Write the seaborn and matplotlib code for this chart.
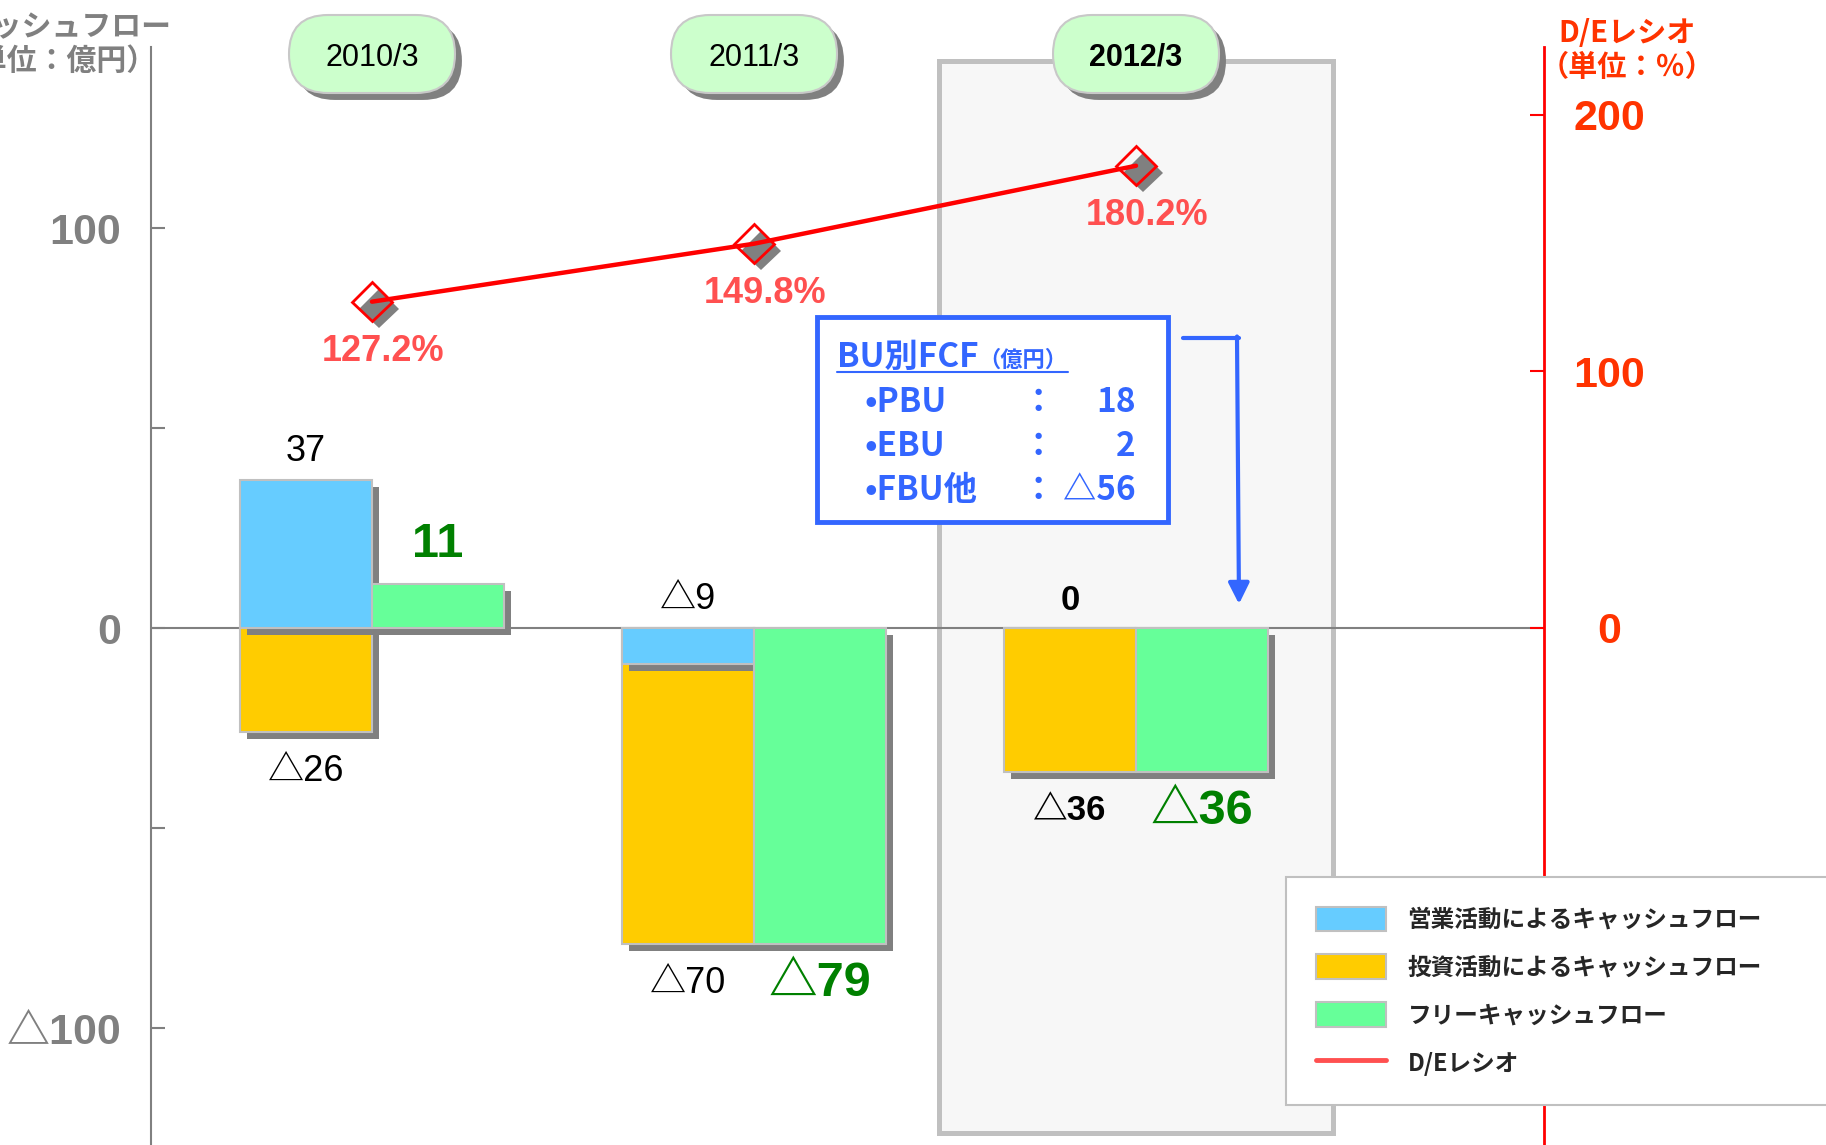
import numpy as np
import pandas as pd
import matplotlib
matplotlib.use("Agg")
import matplotlib.pyplot as plt
import matplotlib.patheffects as pe
from matplotlib.patches import Rectangle, FancyBboxPatch, FancyArrowPatch, Patch
from matplotlib.lines import Line2D
from matplotlib.transforms import IdentityTransform, blended_transform_factory
import seaborn as sns

# --- data (億円 / %) ---
years = ["2010/3", "2011/3", "2012/3"]
operating_cf = [37, -9, 0]       # 営業活動によるキャッシュフロー
investing_cf = [-26, -70, -36]   # 投資活動によるキャッシュフロー
free_cf = [11, -79, -36]         # フリーキャッシュフロー
de_ratio = [127.2, 149.8, 180.2]  # D/Eレシオ

bu_names = ["•PBU", "•EBU", "•FBU他"]
bu_fcf = [18, 2, -56]

legend_labels = ["営業活動によるキャッシュフロー", "投資活動によるキャッシュフロー",
                 "フリーキャッシュフロー", "D/Eレシオ"]

BLUE = "#66CCFF"
YELLOW = "#FFCC00"
GREEN = "#66FF99"
EDGE = "#C0C0C0"
GRAY = "#808080"
RED = "#FF0000"
ORANGE_RED = "#FF3300"
BOX_BLUE = "#3366FF"

W, H = 1826, 1145


def px(x, y):
    # pixel position measured from the top-left -> figure fraction
    return x / W, 1 - y / H


def tri(v):
    return f"△{abs(v)}" if v < 0 else f"{v}"


sns.set_theme(style="white")
JP = ["Noto Sans CJK JP", "DejaVu Sans"]
NUM = ["Liberation Sans", "Noto Sans CJK JP", "DejaVu Sans"]
plt.rcParams["font.family"] = NUM

fig = plt.figure(figsize=(W / 100, H / 100), dpi=100)
ax = fig.add_axes([151 / W, 0.0, (1544 - 151) / W, (H - 47) / H])

# highlight frame behind 2012/3
frame = Rectangle((1.484, 0.011), 1.032, 0.976,
                  transform=blended_transform_factory(ax.transData, ax.transAxes),
                  facecolor="#F7F7F7", edgecolor=EDGE, linewidth=3.6, zorder=0)
ax.add_patch(frame)
ax.axhline(0, color=GRAY, linewidth=1.5, zorder=0.5)

shadow = [pe.SimplePatchShadow(offset=(5, -5), shadow_rgbFace=GRAY, alpha=1), pe.Normal()]

hue_order = ["営業CF", "フリーCF"]
bars = pd.DataFrame({
    "年度": years * 2,
    "区分": ["営業CF"] * 3 + ["フリーCF"] * 3,
    "億円": operating_cf + free_cf,
})
# investing bar hangs below the operating bar when that one is negative
inv_bottom = np.minimum(operating_cf, 0)
inv = pd.DataFrame({"年度": years, "区分": "営業CF",
                    "億円": np.array(investing_cf) + inv_bottom})

n0 = len(ax.patches)
sns.barplot(data=inv, x="年度", y="億円", hue="区分", hue_order=hue_order, order=years,
            palette={"営業CF": YELLOW, "フリーCF": GREEN}, width=0.691, saturation=1,
            dodge=True, edgecolor=EDGE, linewidth=1.5, errorbar=None, legend=False, ax=ax)
sns.barplot(data=bars, x="年度", y="億円", hue="区分", hue_order=hue_order, order=years,
            palette={"営業CF": BLUE, "フリーCF": GREEN}, width=0.691, saturation=1,
            dodge=True, edgecolor=EDGE, linewidth=1.5, errorbar=None, legend=False, ax=ax)
for p in ax.patches[n0:]:
    p.set_path_effects(shadow)

# value labels
off = 0.691 / 4
for i in range(len(years)):
    hi = i == 2
    w = "bold" if hi else "normal"
    fs = 25 if hi else 26
    ax.annotate(tri(operating_cf[i]), (i - off, max(operating_cf[i], 0)), xytext=(0, 8),
                textcoords="offset points", ha="center", va="bottom",
                fontsize=fs, fontweight=w, color="black", family=NUM)
    ax.annotate(tri(investing_cf[i]), (i - off, investing_cf[i] + inv_bottom[i]), xytext=(0, -16),
                textcoords="offset points", ha="center", va="top",
                fontsize=fs, fontweight=w, color="black", family=NUM)
    up = free_cf[i] > 0
    ax.annotate(tri(free_cf[i]), (i + off, free_cf[i]), xytext=(0, 12 if up else -12),
                textcoords="offset points", ha="center", va="bottom" if up else "top",
                fontsize=35, fontweight="bold", color="#008000", family=NUM)

ax.set_xlim(-0.5785, 3.068)
ax.set_ylim(-129.25, 145.25)
ax.set_xticks([])
ax.set_xlabel("")
ax.set_ylabel("")
ax.set_yticks([-100, -50, 0, 50, 100])
ax.set_yticklabels(["△100", "", "0", "", "100"])
ax.tick_params(axis="y", direction="in", length=10, width=1.5, color=GRAY,
               labelcolor=GRAY, labelsize=31, pad=21.5, left=True)
plt.setp(ax.get_yticklabels(), fontweight="bold", family=NUM)
for s in ["top", "right", "bottom"]:
    ax.spines[s].set_visible(False)
ax.spines["left"].set_color(GRAY)
ax.spines["left"].set_linewidth(1.5)
ax.grid(False)

# D/E ratio on the right axis
ax2 = ax.twinx()
pos = np.arange(len(years))
ax2.plot(pos, de_ratio, linestyle="none", marker="D", markersize=20,
         markerfacecolor="none", markeredgecolor=RED, markeredgewidth=2, zorder=3,
         path_effects=[pe.SimplePatchShadow(offset=(5, -5), shadow_rgbFace=GRAY, alpha=1),
                       pe.Normal()])
sns.lineplot(x=pos, y=de_ratio, ax=ax2, color=RED, linewidth=3.2, zorder=4)
for i, v in enumerate(de_ratio):
    ax2.annotate(f"{v:.1f}%", (i, v), xytext=(8, -36), textcoords="offset points",
                 ha="center", va="center", fontsize=26, fontweight="bold",
                 color="#FF5050", family=NUM)
ax2.set_ylim(-201.6, 226.5)
ax2.set_yticks([0, 100, 200])
ax2.set_yticklabels(["0", "100", "200"])
ax2.set_ylabel("")
ax2.tick_params(axis="y", direction="in", length=10, width=1.5, color=RED,
                labelcolor=ORANGE_RED, labelsize=31, pad=47, right=True)
plt.setp(ax2.get_yticklabels(), fontweight="bold", family=NUM, ha="center")
for s in ["top", "left", "bottom"]:
    ax2.spines[s].set_visible(False)
ax2.spines["right"].set_color(RED)
ax2.spines["right"].set_linewidth(2)
ax2.grid(False)
ax.set_xlim(-0.5785, 3.068)

# axis titles (the left one runs off the page edge, as in the source slide)
fig.text(*px(52, 44), "キャッシュフロー\n（単位：億円）", ha="center", va="center",
         fontsize=21.5, fontweight="bold", color=GRAY, family=JP, linespacing=1.15)
fig.text(*px(1627, 50), "D/Eレシオ\n（単位：％）", ha="center", va="center",
         fontsize=21, fontweight="bold", color=ORANGE_RED, family=JP, linespacing=1.15)

# year pills
for i, yr in enumerate(years):
    cx = ax.transData.transform((i, 0))[0]
    cy = H - 54
    pill = FancyBboxPatch((cx - 83, cy - 39), 166, 78,
                          boxstyle="round,pad=0,rounding_size=39",
                          transform=IdentityTransform(), facecolor="#CCFFCC",
                          edgecolor="#C8C8C8", linewidth=1.5, zorder=5)
    pill.set_path_effects([pe.SimplePatchShadow(offset=(5, -5), shadow_rgbFace=GRAY, alpha=1),
                           pe.Normal()])
    fig.add_artist(pill)
    fig.text(cx / W, 1 - 54 / H, yr, ha="center", va="center_baseline", fontsize=22,
             fontweight="bold" if i == 2 else "normal", color="black", family=NUM, zorder=6)

# BU別FCF call-out
fig.add_artist(Rectangle(px(817, 522), 351 / W, 205 / H, transform=fig.transFigure,
                         facecolor="white", edgecolor=BOX_BLUE, linewidth=3.5, zorder=3))
t1 = fig.text(*px(837, 367), "BU別FCF", ha="left", va="baseline", fontsize=24,
              fontweight="bold", color=BOX_BLUE, family=JP, zorder=4)
renderer = fig.canvas.get_renderer()
x1 = t1.get_window_extent(renderer).x1
t2 = fig.text(x1 / W, 1 - 367 / H, "（億円）", ha="left", va="baseline", fontsize=16,
              fontweight="bold", color=BOX_BLUE, family=JP, zorder=4)
x2 = t2.get_window_extent(renderer).x1
fig.add_artist(Line2D([837 / W, x2 / W], [1 - 372 / H] * 2, transform=fig.transFigure,
                      color=BOX_BLUE, linewidth=1.5, zorder=4))
for name, val, yb in zip(bu_names, bu_fcf, [412, 456, 500]):
    fig.text(*px(864, yb), name, ha="left", va="baseline", fontsize=24, fontweight="bold",
             color=BOX_BLUE, family=JP, zorder=4)
    fig.text(*px(1038, yb), "：", ha="center", va="baseline", fontsize=24, fontweight="bold",
             color=BOX_BLUE, family=JP, zorder=4)
    fig.text(*px(1136, yb), tri(val), ha="right", va="baseline", fontsize=24, fontweight="bold",
             color=BOX_BLUE, family=JP, zorder=4)
fig.add_artist(Line2D([1183 / W, 1238.5 / W], [1 - 338 / H] * 2, transform=fig.transFigure,
                      color=BOX_BLUE, linewidth=3, zorder=4))
fig.add_artist(FancyArrowPatch(px(1237, 336.5), px(1239, 604), transform=fig.transFigure,
                               arrowstyle="-|>,head_length=0.9,head_width=0.45",
                               mutation_scale=14, color=BOX_BLUE, linewidth=3,
                               shrinkA=0, shrinkB=0, zorder=4))

# legend (its frame runs past the right edge like the original)
handles = [Patch(facecolor=BLUE, edgecolor=EDGE, linewidth=1.5),
           Patch(facecolor=YELLOW, edgecolor=EDGE, linewidth=1.5),
           Patch(facecolor=GREEN, edgecolor=EDGE, linewidth=1.5),
           Line2D([], [], color="#FF5050", linewidth=3.5)]
lx, ly = px(1286, 877)
leg = fig.legend(handles, legend_labels, loc="upper left",
                 bbox_to_anchor=(lx, ly - 0.2, (1900 - 1286) / W, 0.2), mode="expand",
                 frameon=True, fancybox=False, edgecolor=EDGE, framealpha=1,
                 prop={"family": JP, "weight": "bold", "size": 17},
                 handlelength=3.0, handleheight=1.25, labelspacing=0.95, borderpad=1.25,
                 handletextpad=0.9, borderaxespad=0)
leg.get_frame().set_linewidth(1.5)

fig.savefig("out.png", dpi=100)
